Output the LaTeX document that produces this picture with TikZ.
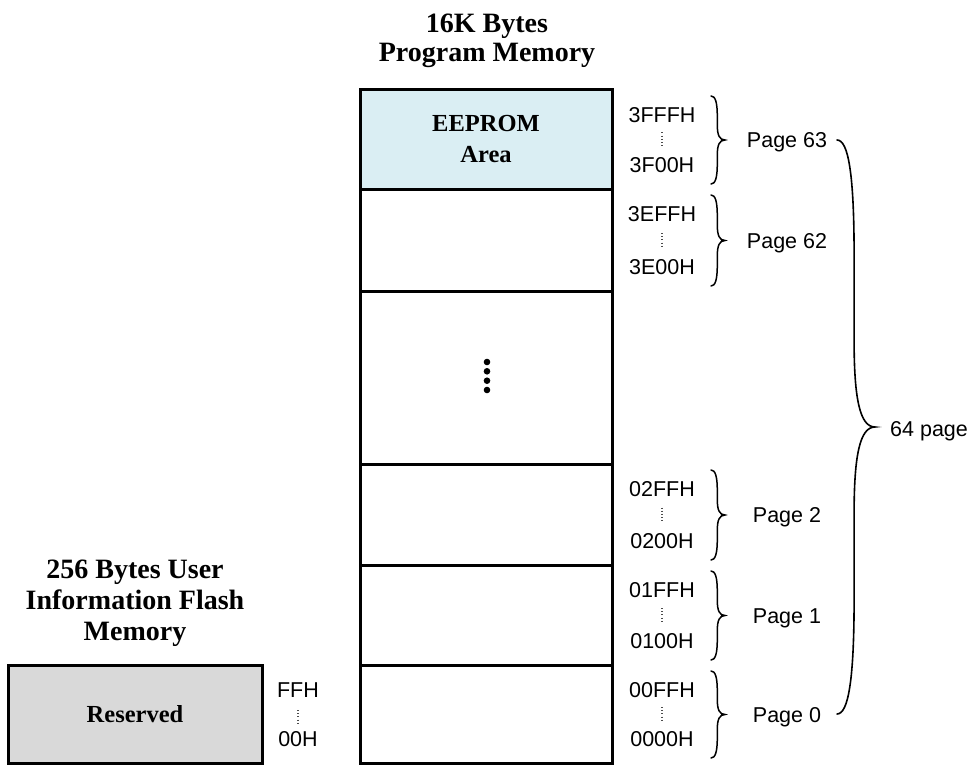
\documentclass[tikz,border=0pt]{standalone}
\usepackage{fontspec}
\setmainfont{Liberation Serif}
\setsansfont{Liberation Sans}
\definecolor{eeblue}{HTML}{DAEEF3}
\definecolor{resgray}{HTML}{D9D9D9}

% right curly brace: [options]{x of the open ends}{top}{bottom}{width to the tip}
\newcommand\pgbrace[5][]{%
  \pgfmathsetmacro\brM{(#3+#4)/2}%
  \pgfmathsetmacro\brH{#4-#3}%
  \pgfmathsetmacro\brX{#2+0.45*#5}%
  \pgfmathsetmacro\brT{#2+#5}%
  \draw[bracestyle,#1] (#2,#3)
    .. controls ({#2+0.3*#5},#3) and (\brX,{#3+0.06*\brH}) .. (\brX,{#3+0.2*\brH})
    -- (\brX,{\brM-0.15*\brH})
    .. controls (\brX,{\brM-0.05*\brH}) and ({#2+0.6*#5},\brM) .. (\brT,\brM)
    .. controls ({#2+0.6*#5},\brM) and (\brX,{\brM+0.05*\brH}) .. (\brX,{\brM+0.15*\brH})
    -- (\brX,{#4-0.2*\brH})
    .. controls (\brX,{#4-0.06*\brH}) and ({#2+0.3*#5},#4) .. (#2,#4);
}

\begin{document}
\begin{tikzpicture}[x=1pt,y=-1pt,
  title/.style={font=\bfseries\fontsize{28}{31}\selectfont, anchor=base, inner sep=0pt},
  cell/.style={draw, line width=3pt, minimum width=252pt, inner sep=0pt,
               font=\bfseries\fontsize{24.5}{31}\selectfont, align=center},
  addr/.style={font=\sffamily\fontsize{21.5}{21.5}\selectfont, inner sep=0pt},
  pagelbl/.style={font=\sffamily\fontsize{21.5}{21.5}\selectfont, inner sep=0pt, anchor=base},
  tinydots/.style={line width=1.1pt, dash pattern=on 0.9pt off 2.3pt, black!70},
  bracestyle/.style={line width=1.5pt, line cap=round},
]
\useasboundingbox (0,0) rectangle (972,765);

% ---- program memory column ----
\node[title] (t1) at (487,33) {16K Bytes};
\node[title] (t2) at (487,62) {Program Memory};

\node[cell, fill=eeblue, minimum height=99pt]  (p63) at (486,139.5) {EEPROM\\Area};
\node[cell, minimum height=102pt] (p62) at (486,240) {};
\node[cell, minimum height=173pt] (pmid) at (486,377.5) {};
\node[cell, minimum height=101pt] (p2) at (486,514.5) {};
\node[cell, minimum height=100pt] (p1) at (486,615) {};
\node[cell, minimum height=98pt]  (p0) at (486,714) {};

% ellipsis dots in the middle block
\foreach \yy in {362,371.3,380.7,390}
  \fill (487,\yy) circle (3.3pt);

% ---- address ranges and page braces ----
\foreach \nm/\yt/\yb/\hi/\lo/\pg in {
    63/90/189/3FFFH/3F00H/Page 63,
    62/189/291/3EFFH/3E00H/Page 62,
    2/464/565/02FFH/0200H/Page 2,
    1/565/665/01FFH/0100H/Page 1,
    0/665/763/00FFH/0000H/Page 0}{
  \pgfmathsetmacro\yc{(\yt+\yb)/2}
  \node[addr] (hi\nm) at (662,\yt+25) {\hi};
  \node[addr] (lo\nm) at (662,\yb-24) {\lo};
  \draw[tinydots] (662,\yc-7) -- (662,\yc+7);
  \pgbrace{711}{\yt+6}{\yb-5}{14}
  \node[pagelbl] (pg\nm) at (787,\yc+8) {\pg};
}

% brace spanning all pages
\pgbrace[line width=1.6pt]{837}{140}{714}{38}
\node[pagelbl, anchor=base west] (all) at (890,436) {64 page};

% ---- user information flash ----
\node[title] (u1) at (135,578) {256 Bytes User};
\node[title] (u2) at (135,609) {Information Flash};
\node[title] (u3) at (135,640) {Memory};

\node[cell, fill=resgray, minimum width=254pt, minimum height=98pt] (res) at (135,714) {Reserved};
\node[addr] (rhi) at (298,690) {FFH};
\node[addr] (rlo) at (298,739) {00H};
\draw[tinydots] (298,710) -- (298,724);
\end{tikzpicture}
\end{document}
